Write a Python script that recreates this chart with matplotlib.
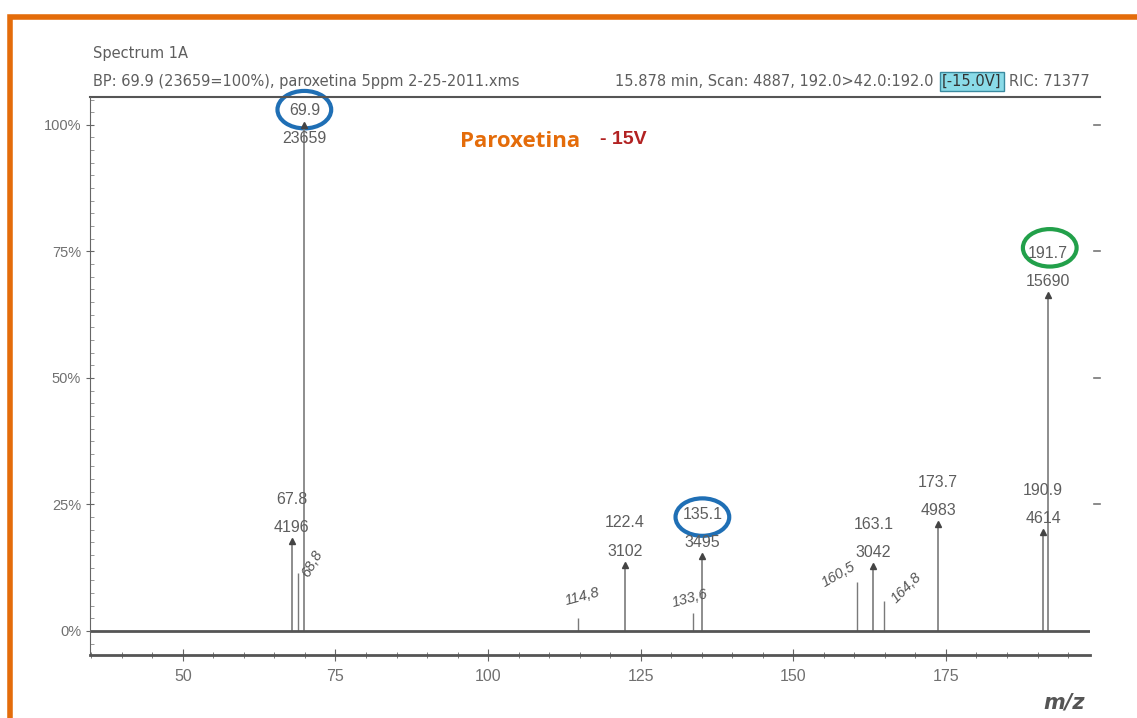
import matplotlib.pyplot as plt
from matplotlib.patches import Ellipse, Rectangle
from matplotlib.ticker import MultipleLocator

# picos do espectro (m/z, contagens)
mz_rotulados = [67.8, 69.9, 122.4, 135.1, 163.1, 173.7, 190.9, 191.7]
contagens = [4196, 23659, 3102, 3495, 3042, 4983, 4614, 15690]
mz_manuscritos = [68.8, 114.8, 133.6, 160.5, 164.8]
int_manuscritos = [11.5, 2.5, 3.5, 9.7, 6.0]
rot_manuscritos = ["68,8", "114,8", "133,6", "160,5", "164,8"]
base = 23659
int_rotulados = [c / base * 100 for c in contagens]

cinza = "#5e5e5e"
fonte = ["Liberation Sans", "DejaVu Sans"]

fig = plt.figure(figsize=(11.37, 7.18), dpi=100)
ax = fig.add_axes([0.0792, 0.0878, 0.8795, 0.7771])

# moldura laranja
fig.patches.append(Rectangle((10 / 1137, -0.05), 1.2, 1 - 17 / 718 + 0.05,
                             transform=fig.transFigure, fill=False,
                             edgecolor="#E46C0A", linewidth=4))

ax.set_xlim(34.8, 198.6)
ax.set_ylim(-4.74, 105.5)

ax.vlines(mz_rotulados, 0, int_rotulados, color="#7a7a7a", linewidth=1.2)
ax.vlines(mz_manuscritos, 0, int_manuscritos, color="#7a7a7a", linewidth=1.0)
ax.plot(mz_rotulados, int_rotulados, linestyle="none", marker="^",
        markersize=4, color="#444444")
ax.axhline(0, color="#555555", linewidth=2)

for m, c, i in zip(mz_rotulados, contagens, int_rotulados):
    dy = -21 if m == 69.9 else 6
    ax.annotate(f"{m}\n{c}", (m, i), xytext=(0, dy), textcoords="offset pixels",
                ha="center", va="bottom", fontsize=11.5, color=cinza,
                family=fonte, linespacing=2.1)

rotacao = {"68,8": 60, "114,8": 15, "133,6": 15, "160,5": 30, "164,8": 45}
desloc = {"68,8": (14, 9), "114,8": (4, 22), "133,6": (-3, 15),
          "160,5": (-19, 7), "164,8": (23, 13)}
for m, i, t in zip(mz_manuscritos, int_manuscritos, rot_manuscritos):
    ax.annotate(t, (m, i), xytext=desloc[t], textcoords="offset pixels",
                ha="center", va="center", fontsize=10.5, color="#555555",
                style="italic", rotation=rotacao[t], family=fonte)

# circulos desenhados a mao
for m, y, cor in [(69.9, 103.0, "#1f6fb5"), (135.1, 22.5, "#1f6fb5"),
                  (192.0, 75.7, "#22a04a")]:
    ax.add_patch(Ellipse((m, y), 8.8, 7.4, fill=False, edgecolor=cor,
                         linewidth=3, clip_on=False))

ax.text(0.37, 0.921, "Paroxetina", transform=ax.transAxes, fontsize=16,
        fontweight="bold", color="#E46C0A", family=["Open Sans", "DejaVu Sans"],
        va="center")
ax.text(0.51, 0.923, "- 15V", transform=ax.transAxes, fontsize=14,
        fontweight="bold", color="#B22222", family=fonte, va="center")

# eixos
for lado in ["top", "right"]:
    ax.spines[lado].set_visible(False)
ax.spines["left"].set_color("#666666")
ax.spines["bottom"].set_color("#555555")
ax.spines["bottom"].set_linewidth(2)
ax.plot([0, 1.01], [105.5, 105.5], transform=ax.get_yaxis_transform(),
        color="#555555", linewidth=1.5, clip_on=False)

ax.set_xticks([50, 75, 100, 125, 150, 175])
ax.xaxis.set_minor_locator(MultipleLocator(5))
ax.set_yticks([0, 25, 50, 75, 100])
ax.set_yticklabels(["0%", "25%", "50%", "75%", "100%"])
ax.yaxis.set_minor_locator(MultipleLocator(2.5))
ax.tick_params(axis="x", which="major", length=8, direction="inout",
               colors="#666666", labelsize=11.5, pad=6)
ax.tick_params(axis="x", which="minor", length=5, direction="inout",
               colors="#666666")
ax.tick_params(axis="y", which="major", length=6, direction="inout",
               colors="#666666", labelsize=10.5)
ax.tick_params(axis="y", which="minor", length=3, direction="in",
               colors="#888888")
for lbl in ax.get_xticklabels() + ax.get_yticklabels():
    lbl.set_family(fonte)
    lbl.set_color("#707070")

# marcas a direita
for y in [100, 75, 50, 25]:
    ax.plot([1.004, 1.01], [y, y], transform=ax.get_yaxis_transform(),
            color="#777777", linewidth=1.2, clip_on=False)

# cabecalho
ax.text(0.003, 1.078, "Spectrum 1A", transform=ax.transAxes, fontsize=10.5,
        color=cinza, va="center")
ax.text(0.003, 1.028, "BP: 69.9 (23659=100%), paroxetina 5ppm 2-25-2011.xms",
        transform=ax.transAxes, fontsize=10.5, color=cinza, va="center")
ax.text(0.525, 1.028, "15.878 min, Scan: 4887, 192.0>42.0:192.0",
        transform=ax.transAxes, fontsize=10.5, color=cinza, va="center")
ax.text(0.852, 1.028, "[-15.0V]", transform=ax.transAxes, fontsize=10.5,
        color="#333333", va="center",
        bbox=dict(boxstyle="square,pad=0.15", facecolor="#8adbe8",
                  edgecolor="#3a8aa0"))
ax.text(1.0, 1.028, "RIC: 71377", transform=ax.transAxes, fontsize=10.5,
        color=cinza, va="center", ha="right")

ax.text(0.995, -0.085, "m/z", transform=ax.transAxes, fontsize=15,
        fontweight="bold", style="italic", color="#555555", ha="right",
        va="center")

fig.savefig("out.png", dpi=100)
